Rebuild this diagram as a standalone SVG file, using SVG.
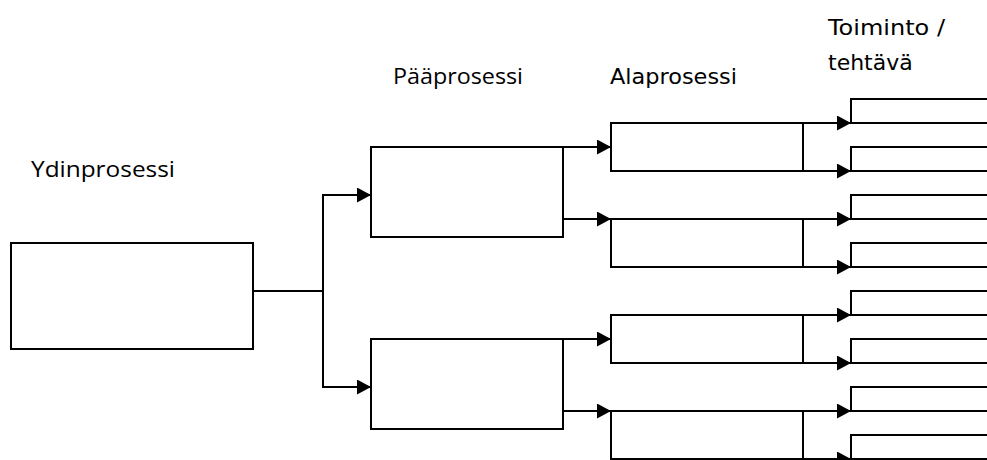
<svg xmlns="http://www.w3.org/2000/svg" width="987" height="460" viewBox="0 0 987 460">
  <style>
    .box { fill: #fff; stroke: #000; stroke-width: 2; }
    .task { fill: none; stroke: #000; stroke-width: 2; }
    .conn { fill: none; stroke: #000; stroke-width: 2; marker-end: url(#arrow); }
    .lbl-a { font-family: "Open Sans", "Liberation Sans", sans-serif; font-size: 22px; fill: #000; }
    .lbl-b { font-family: "DejaVu Sans", "Liberation Sans", sans-serif; font-size: 22px; fill: #000; }
  </style>
  <defs>
    <marker id="arrow" markerUnits="userSpaceOnUse" markerWidth="14" markerHeight="15" refX="14" refY="7.5" orient="auto">
      <path d="M0,0 L14,7.5 L0,15 Z" fill="#000"/>
    </marker>
  </defs>

  <!-- column headings -->
  <g id="headings">
    <text class="lbl-a" x="31" y="177" textLength="144" lengthAdjust="spacingAndGlyphs">Ydinprosessi</text>
    <text class="lbl-a" x="393" y="84" textLength="130" lengthAdjust="spacingAndGlyphs">Pääprosessi</text>
    <text class="lbl-b" x="610" y="84" textLength="127" lengthAdjust="spacingAndGlyphs">Alaprosessi</text>
    <text class="lbl-b" x="828" y="35" textLength="117" lengthAdjust="spacingAndGlyphs">Toiminto /</text>
    <text class="lbl-b" x="828" y="70">tehtävä</text>
  </g>

  <!-- connectors -->
  <g id="connectors">
    <path class="conn" d="M251,291 H323 V195 H371"/>
    <path class="conn" d="M323,291 V387 H371"/>

    <path class="conn" d="M563,147 H611"/>
    <path class="conn" d="M563,219 H611"/>
    <path class="conn" d="M563,339 H611"/>
    <path class="conn" d="M563,411 H611"/>

    <path class="conn" d="M803,123 H851"/>
    <path class="conn" d="M803,171 H851"/>
    <path class="conn" d="M803,219 H851"/>
    <path class="conn" d="M803,267 H851"/>
    <path class="conn" d="M803,315 H851"/>
    <path class="conn" d="M803,363 H851"/>
    <path class="conn" d="M803,411 H851"/>
    <path class="conn" d="M803,459 H851"/>
  </g>

  <!-- core process -->
  <g id="ydinprosessi">
    <rect class="box" x="11" y="243" width="242" height="106"/>
  </g>

  <!-- main processes -->
  <g id="paaprosessi-1"><rect class="box" x="371" y="147" width="192" height="90"/></g>
  <g id="paaprosessi-2"><rect class="box" x="371" y="339" width="192" height="90"/></g>

  <!-- sub-processes -->
  <g id="alaprosessi-1"><rect class="box" x="611" y="123" width="192" height="48"/></g>
  <g id="alaprosessi-2"><rect class="box" x="611" y="219" width="192" height="48"/></g>
  <g id="alaprosessi-3"><rect class="box" x="611" y="315" width="192" height="48"/></g>
  <g id="alaprosessi-4"><rect class="box" x="611" y="411" width="192" height="48"/></g>

  <!-- tasks (open to the right) -->
  <g id="tehtava-1"><path class="task" d="M988,99 H851 V123 H988"/></g>
  <g id="tehtava-2"><path class="task" d="M988,147 H851 V171 H988"/></g>
  <g id="tehtava-3"><path class="task" d="M988,195 H851 V219 H988"/></g>
  <g id="tehtava-4"><path class="task" d="M988,243 H851 V267 H988"/></g>
  <g id="tehtava-5"><path class="task" d="M988,291 H851 V315 H988"/></g>
  <g id="tehtava-6"><path class="task" d="M988,339 H851 V363 H988"/></g>
  <g id="tehtava-7"><path class="task" d="M988,387 H851 V411 H988"/></g>
  <g id="tehtava-8"><path class="task" d="M988,435 H851 V459 H988"/></g>
</svg>
